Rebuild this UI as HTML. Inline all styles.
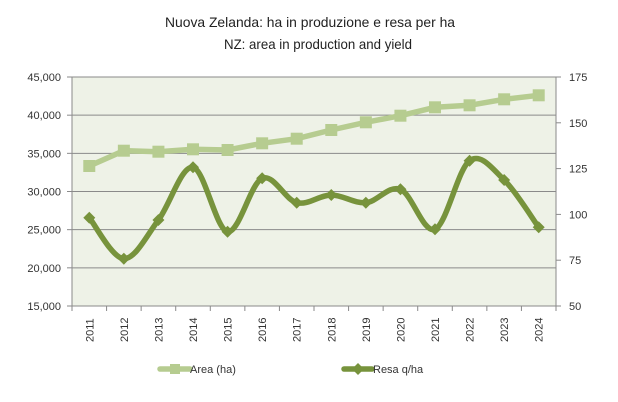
<!DOCTYPE html>
<html><head><meta charset="utf-8"><style>
body{margin:0;background:#fff}
svg{display:block;font-family:"Liberation Sans",sans-serif}
</style></head><body>
<svg id="s" width="618" height="402" viewBox="0 0 618 402">
<rect width="618" height="402" fill="#fff"/>
<text x="310" y="27" font-size="14" text-anchor="middle" fill="#222" textLength="290" lengthAdjust="spacingAndGlyphs">Nuova Zelanda: ha in produzione e resa per ha</text>
<text x="318" y="49" font-size="14" text-anchor="middle" fill="#222" textLength="188" lengthAdjust="spacingAndGlyphs">NZ: area in production and yield</text>
<rect x="72" y="77" width="484" height="229" fill="#EEF2E7"/>
<g id="g" stroke="#8a8a8a" stroke-width="1"></g>
<g id="t" font-size="11" fill="#333"></g>
<path id="a" fill="none" stroke="#B6CC90" stroke-width="5.5" stroke-linejoin="round"/>
<g id="am" fill="#B6CC90"></g>
<path id="r" fill="none" stroke="#77933C" stroke-width="5.5" stroke-linejoin="round"/>
<g id="rm" fill="#77933C"></g>
<line x1="160" y1="369" x2="190" y2="369" stroke="#B6CC90" stroke-width="5.5" stroke-linecap="round"/>
<rect x="170" y="364" width="10" height="10" fill="#B6CC90"/>
<text x="190" y="373" font-size="11" fill="#333">Area (ha)</text>
<line x1="344" y1="369" x2="372" y2="369" stroke="#77933C" stroke-width="5.5" stroke-linecap="round"/>
<polygon points="358,363 364,369 358,375 352,369" fill="#77933C"/>
<text x="373" y="373" font-size="11" fill="#333">Resa q/ha</text>
</svg>
<script>
var ns="http://www.w3.org/2000/svg";
function el(p,t,a,txt){var e=document.createElementNS(ns,t);for(var k in a)e.setAttribute(k,a[k]);if(txt)e.textContent=txt;document.getElementById(p).appendChild(e);}
var L=72,R=556,T=77,B=306;
for(var i=0;i<=6;i++){var y=B-i*(B-T)/6;el("g","line",{x1:L,y1:y,x2:R,y2:y});el("g","line",{x1:L-5,y1:y,x2:L,y2:y});
var v=15000+i*5000;el("t","text",{x:L-11,y:y+4,"text-anchor":"end"},v.toLocaleString("en-US"));}
for(var i=0;i<=5;i++){var y=B-i*(B-T)/5;el("g","line",{x1:R,y1:y,x2:R+5,y2:y});el("t","text",{x:R+13,y:y+4},String(50+i*25));}
el("g","line",{x1:L,y1:T,x2:L,y2:B});el("g","line",{x1:R,y1:T,x2:R,y2:B});
var w=(R-L)/14;
for(var i=0;i<=14;i++){var x=L+i*w;el("g","line",{x1:x,y1:B,x2:x,y2:B+5});}
var ay=[166,150.7,151.7,149.3,150,143.3,138.7,130,122.3,115.7,107.3,105.3,99.3,95.3];
var ry=[217.7,258.7,220,167.3,231.7,178.3,202.7,195,202.7,189.3,229.3,160.7,180,227.3];
var xs=[];for(var i=0;i<14;i++){var x=L+w/2+i*w;xs.push(x);
el("t","text",{x:0,y:0,transform:"translate("+(x+4)+",342) rotate(-90)"},String(2011+i));}
var d="M"+xs[0]+","+ay[0];for(var i=1;i<14;i++)d+="L"+xs[i]+","+ay[i];
document.getElementById("a").setAttribute("d",d);
for(var i=0;i<14;i++)el("am","rect",{x:xs[i]-6,y:ay[i]-6,width:12,height:12});
var p=xs.map(function(x,i){return[x,ry[i]]});
d="M"+p[0][0]+","+p[0][1];
for(var i=0;i<13;i++){var p0=p[i-1]||p[i],p1=p[i],p2=p[i+1],p3=p[i+2]||p[i+1];
d+="C"+(p1[0]+(p2[0]-p0[0])/6)+","+(p1[1]+(p2[1]-p0[1])/6)+" "+(p2[0]-(p3[0]-p1[0])/6)+","+(p2[1]-(p3[1]-p1[1])/6)+" "+p2[0]+","+p2[1];}
document.getElementById("r").setAttribute("d",d);
for(var i=0;i<14;i++){var x=xs[i],y=ry[i];el("rm","polygon",{points:x+","+(y-6)+" "+(x+6)+","+y+" "+x+","+(y+6)+" "+(x-6)+","+y});}
</script>
</body></html>
